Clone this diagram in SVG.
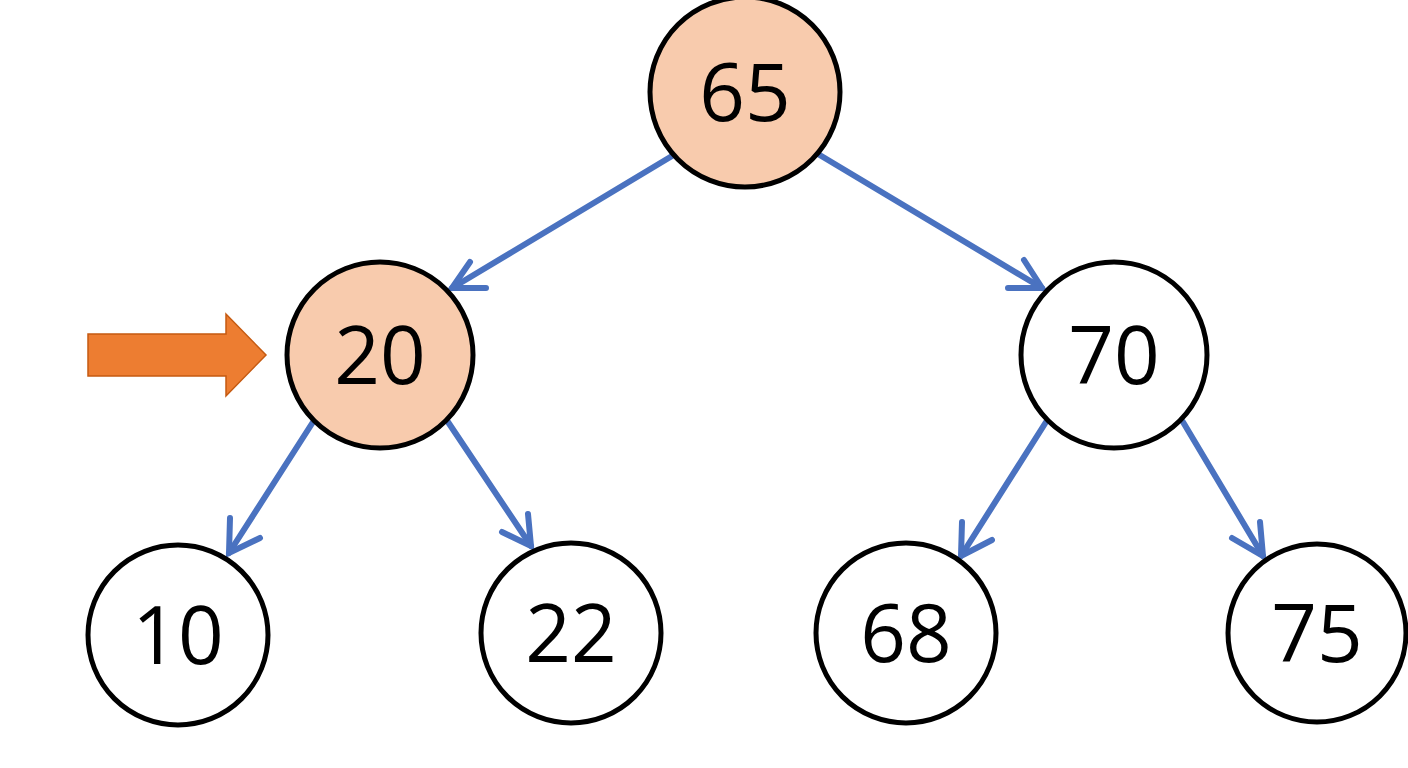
<svg xmlns="http://www.w3.org/2000/svg" width="1408" height="768" viewBox="0 0 1408 768">
<defs>
<style>
.n{fill:#fff;stroke:#000;stroke-width:5}
.h{fill:#f8cbad}
.t{font-family:"Open Sans","Noto Sans",sans-serif;font-size:80px;text-anchor:middle;fill:#000}
.c{stroke:#4a72c0;stroke-width:6;fill:none;stroke-linecap:round}
</style>
<marker id="a" viewBox="0 0 12 12" refX="10" refY="6" markerWidth="6" markerHeight="6" orient="auto" markerUnits="userSpaceOnUse" style="overflow:visible">
<path d="M-6,-8 L10,6 L-6,20" transform="translate(0,0) scale(1)" fill="none" stroke="#4a72c0" stroke-width="6" stroke-linecap="round" stroke-linejoin="miter" vector-effect="non-scaling-stroke"/>
</marker>
</defs>
<rect width="1408" height="768" fill="#fff"/>
<g id="connectors">
<path class="c" d="M672,156 L452,288"/>
<path class="c" d="M470,262 L452,288 L486,288"/>
<path class="c" d="M818,154 L1042,288"/>
<path class="c" d="M1024,260 L1042,288 L1008,288"/>
<path class="c" d="M313,422 L229,553"/>
<path class="c" d="M230,518 L229,553 L260,538"/>
<path class="c" d="M448,422 L531,546"/>
<path class="c" d="M528,514 L531,546 L502,532"/>
<path class="c" d="M1046,422 L961,556"/>
<path class="c" d="M962,522 L961,556 L992,540"/>
<path class="c" d="M1183,422 L1263,556"/>
<path class="c" d="M1260,522 L1263,556 L1232,538"/>
</g>
<g id="pointer">
<path d="M88,334 L226,334 L226,314 L266,355 L226,396 L226,376 L88,376 Z" fill="#ed7d31" stroke="#c55a11" stroke-width="1.5"/>
</g>
<g id="n65"><circle class="n h" cx="745" cy="92" r="95"/><text class="t" x="745" y="121">65</text></g>
<g id="n20"><circle class="n h" cx="380" cy="355" r="93"/><text class="t" x="380" y="384">20</text></g>
<g id="n70"><circle class="n" cx="1114" cy="355" r="93"/><text class="t" x="1114" y="384">70</text></g>
<g id="n10"><circle class="n" cx="178" cy="635" r="90"/><text class="t" x="178" y="664">10</text></g>
<g id="n22"><circle class="n" cx="571" cy="633" r="90"/><text class="t" x="571" y="662">22</text></g>
<g id="n68"><circle class="n" cx="906" cy="633" r="90"/><text class="t" x="906" y="662">68</text></g>
<g id="n75"><circle class="n" cx="1317" cy="633" r="89"/><text class="t" x="1317" y="662">75</text></g>
</svg>
